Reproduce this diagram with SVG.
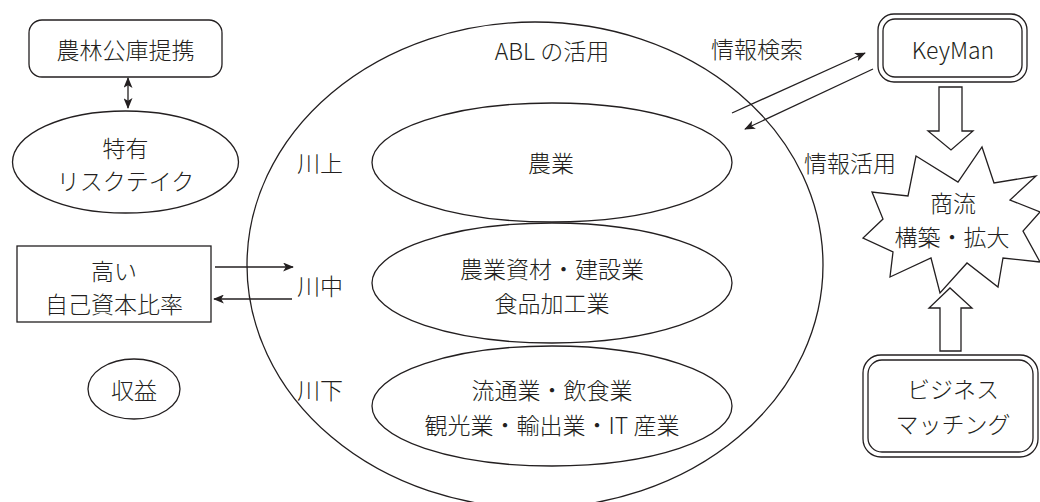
<svg xmlns="http://www.w3.org/2000/svg" width="1040" height="502" viewBox="0 0 1040 502">
<defs>
<style>
.s{fill:#fff;stroke:#231f20;stroke-width:1.3}
.n{fill:none;stroke:#231f20;stroke-width:1.3}
.t{font-family:"Noto Sans CJK JP","Noto Sans",sans-serif;font-size:23px;font-weight:300;fill:#231f20;text-anchor:middle;dominant-baseline:central}
.c{fill:none;stroke:#231f20;stroke-width:1.3}
</style>
<marker id="ah" viewBox="0 0 12 10" refX="11" refY="5" markerWidth="12" markerHeight="9" markerUnits="userSpaceOnUse" orient="auto-start-reverse">
<path d="M0,0 L12,5 L0,10 L3,5 Z" fill="#231f20"/>
</marker>
</defs>
<rect width="1040" height="502" fill="#fff"/>

<g id="abl">
<ellipse class="s" cx="535" cy="265" rx="288" ry="243"/>
<text class="t" x="552" y="50">ABL の活用</text>
</g>
<g id="nogyo">
<ellipse class="s" cx="552" cy="162.5" rx="180" ry="59.5"/>
<text class="t" x="551" y="162">農業</text>
</g>
<g id="shizai">
<ellipse class="s" cx="552" cy="283" rx="180" ry="60"/>
<text class="t" x="552" y="268">農業資材・建設業</text>
<text class="t" x="552" y="302">食品加工業</text>
</g>
<g id="ryutsu">
<ellipse class="s" cx="552" cy="406" rx="180" ry="60"/>
<text class="t" x="552" y="389">流通業・飲食業</text>
<text class="t" x="552" y="424">観光業・輸出業・IT 産業</text>
</g>
<g id="kawakami"><text class="t" x="320" y="162">川上</text></g>
<g id="kawanaka"><text class="t" x="320" y="285">川中</text></g>
<g id="kawashimo"><text class="t" x="320" y="389">川下</text></g>

<g id="koko">
<rect class="s" x="29" y="20" width="193" height="57" rx="13"/>
<text class="t" x="125.5" y="49">農林公庫提携</text>
</g>
<g id="risk">
<ellipse class="s" cx="125.5" cy="162" rx="113" ry="51"/>
<text class="t" x="125.5" y="147">特有</text>
<text class="t" x="125.5" y="180">リスクテイク</text>
</g>
<g id="jikoshihon">
<rect class="s" x="17" y="246" width="194" height="76"/>
<text class="t" x="114" y="270">高い</text>
<text class="t" x="114" y="303">自己資本比率</text>
</g>
<g id="shueki">
<ellipse class="s" cx="134" cy="389" rx="46" ry="30"/>
<text class="t" x="134" y="389">収益</text>
</g>

<g id="keyman">
<rect class="s" x="878" y="14" width="149" height="68" rx="16"/>
<rect class="n" x="883" y="19" width="139" height="58" rx="12"/>
<text class="t" x="953" y="49">KeyMan</text>
</g>
<g id="shoryu">
<polygon class="s" points="916,156 958,182 982,147 994,183 1036,176 1010,200 1040,212 1023,231 1040,262 1003,258 998,287 967,263 940,293 931,258 890,277 893,252 863,238 883,219 872,192 908,196"/>
<text class="t" x="953" y="202">商流</text>
<text class="t" x="952" y="236">構築・拡大</text>
</g>
<g id="matching">
<rect class="s" x="863" y="355" width="175" height="102" rx="18"/>
<rect class="n" x="868" y="360" width="165" height="92" rx="14"/>
<text class="t" x="953" y="388">ビジネス</text>
<text class="t" x="953" y="423">マッチング</text>
</g>
<g id="label-kensaku"><text class="t" x="757" y="48">情報検索</text></g>
<g id="label-katsuyo"><text class="t" x="850" y="162">情報活用</text></g>

<g id="connectors">
<line class="c" x1="128" y1="78" x2="128" y2="108" marker-start="url(#ah)" marker-end="url(#ah)"/>
<line class="c" x1="215" y1="267" x2="293" y2="267" marker-end="url(#ah)"/>
<line class="c" x1="292" y1="299" x2="214" y2="299" marker-end="url(#ah)"/>
<line class="c" x1="732" y1="113" x2="865" y2="53" marker-end="url(#ah)"/>
<line class="c" x1="873" y1="69" x2="745" y2="129" marker-end="url(#ah)"/>
<polygon class="s" points="939,87 962,87 962,131 973,131 951,150 928,131 939,131"/>
<polygon class="s" points="940,351 961,351 961,308 972,308 950,288 929,308 940,308"/>
</g>
</svg>
